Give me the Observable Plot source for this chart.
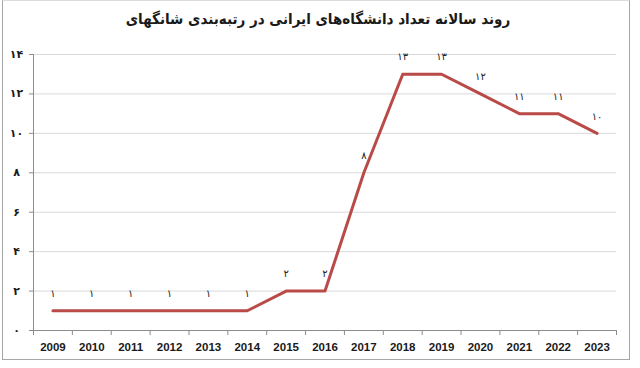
<!DOCTYPE html>
<html><head><meta charset="utf-8">
<script src="https://cdn.jsdelivr.net/npm/d3@7"></script>
<script src="https://cdn.jsdelivr.net/npm/@observablehq/plot@0.6"></script>
<style>
body{margin:0;background:#fff;}
#frame{position:absolute;left:2px;top:0;width:628px;height:360px;border:1px solid #a6a6a6;border-top-color:#dcdcdc;box-sizing:border-box}
#title{position:absolute;left:0;top:10px;width:636px;text-align:center;font:bold 15px "DejaVu Sans Condensed","DejaVu Sans";direction:rtl;color:#1a1a1a}
#chart{position:absolute;left:0;top:40px}
</style></head><body>
<div id="frame"></div>
<div id="title">روند سالانه تعداد دانشگاه‌های ایرانی در رتبه‌بندی شانگهای</div>
<div id="chart"></div>
<script>
const years = [2009,2010,2011,2012,2013,2014,2015,2016,2017,2018,2019,2020,2021,2022,2023];
const counts = [1,1,1,1,1,1,2,2,8,13,13,12,11,11,10];
const yTicks = [0,2,4,6,8,10,12,14];
const fa = n => String(n).replace(/\d/g, d => "۰۱۲۳۴۵۶۷۸۹"[d]);
const data = years.map((year, i) => ({year, count: counts[i]}));
const bounds = [years[0] - 0.5, ...years.map(y => y + 0.5)];
const plot = Plot.plot({
  width: 640, height: 320,
  marginTop: 14, marginBottom: 30, marginLeft: 33, marginRight: 24,
  style: {fontFamily: "'DejaVu Sans', sans-serif", background: "transparent"},
  x: {domain: [bounds[0], bounds[bounds.length - 1]], label: null},
  y: {domain: [0, 14], label: null},
  marks: [
    Plot.gridY(yTicks.slice(1), {stroke: "#d9d9d9", strokeOpacity: 1}),
    Plot.axisY(yTicks, {tickSize: 4, tickPadding: 13, textAnchor: "middle", tickFormat: fa,
      fontWeight: "bold", fontSize: 11, stroke: "#8c8c8c", fill: "#1a1a1a", label: null}),
    Plot.ruleY([0], {stroke: "#8c8c8c"}),
    Plot.ruleX([bounds[0]], {stroke: "#8c8c8c"}),
    Plot.axisX(bounds, {tickSize: 5, tickFormat: () => "", stroke: "#8c8c8c", label: null}),
    Plot.axisX(years, {tickSize: 0, tickPadding: 12, tickFormat: "d", label: null,
      fontWeight: "bold", fontSize: 11.5, fill: "#1a1a1a", fontFamily: "'Liberation Sans', sans-serif"}),
    Plot.line(data, {x: "year", y: "count", stroke: "#b94a48", strokeWidth: 3}),
    Plot.text(data, {x: "year", y: "count", text: d => fa(d.count), dy: -17, fontSize: 10, fill: "#222"})
  ]
});
document.getElementById("chart").append(plot);
</script>
</body></html>
